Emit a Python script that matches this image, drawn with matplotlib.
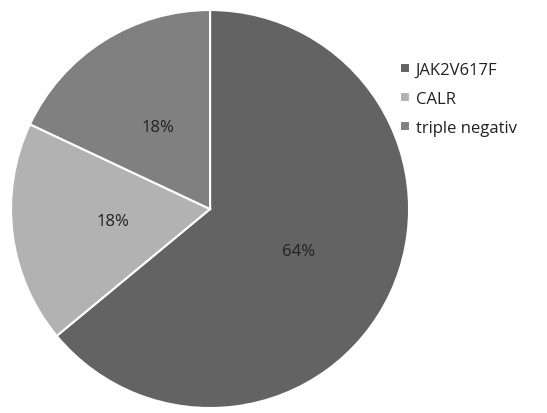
import matplotlib.pyplot as plt

labels = ['JAK2V617F', 'CALR', 'triple negativ']
shares = [64, 18, 18]
colors = ['#636363', '#b2b2b2', '#808080']

plt.rcParams['font.family'] = ['Open Sans', 'DejaVu Sans']

fig = plt.figure(figsize=(5.47, 4.14), dpi=100)
ax = fig.add_axes([0.0165, 0.0072, 0.735, 0.971])

wedges, texts, autotexts = ax.pie(
    shares, colors=colors, startangle=90, counterclock=False,
    autopct='%d%%', pctdistance=0.49,
    wedgeprops=dict(edgecolor='white', linewidth=1.5),
    textprops=dict(fontsize=12, color='#222222'))
ax.set_xlim(-1.01, 1.01)
ax.set_ylim(-1.01, 1.01)

fig.legend(wedges, labels, loc='upper left', bbox_to_anchor=(0.722, 0.86),
           frameon=False, fontsize=12, handlelength=0.6, handleheight=0.6,
           handletextpad=0.35, labelspacing=0.78, labelcolor='#222222',
           borderaxespad=0, borderpad=0.3)

fig.savefig('out.png')
